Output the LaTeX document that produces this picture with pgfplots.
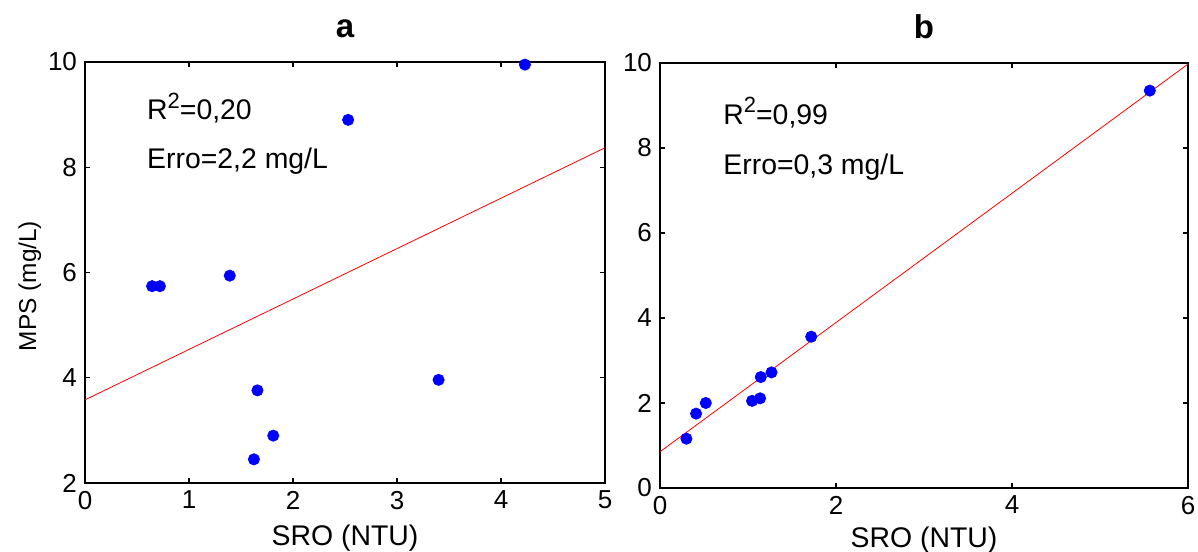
\documentclass[border=0pt]{standalone}
\usepackage{fontspec}
\setmainfont{Liberation Sans}
\usepackage{pgfplots}
\pgfplotsset{compat=1.18}
\begin{document}
\begin{tikzpicture}
\path[use as bounding box] (0,0) rectangle (599pt,275.5pt);
\pgfplotsset{myax/.style={
  scale only axis,
  axis line style={line width=0.8pt},
  tick style={black, line width=0.6pt},
  major tick length=2.5pt,
  tick align=inside,
  /pgf/number format/assume math mode=true,
  ticklabel style={font=\fontsize{13}{15}\selectfont},
  xticklabel style={yshift=-0.5pt},
  yticklabel style={xshift=-0.5pt},
  title style={font=\bfseries\fontsize{16.5}{19}\selectfont, at={(axis description cs:0.5,1)}, anchor=base, yshift=6pt},
  xlabel style={font=\fontsize{14.2}{16}\selectfont, at={(axis description cs:0.5,0)}, anchor=base},
}}
% panel a
\begin{axis}[myax,
  at={(42.5pt,34pt)}, anchor=south west,
  width=260pt, height=210.5pt,
  xmin=0, xmax=5, ymin=2, ymax=10,
  xtick={0,1,2,3,4,5}, ytick={2,4,6,8,10},
  title={a},
  xlabel={SRO (NTU)}, xlabel style={yshift=-31pt},
]
\addplot[red, line width=0.4pt] coordinates {(0,3.58) (5,8.37)};
\addplot[only marks, mark=*, mark size=2.8pt, blue, mark options={fill=blue, draw=blue}] coordinates {
(0.645,5.74) (0.72,5.74) (1.392,5.94) (2.53,8.90) (4.23,9.95)
(1.658,3.76) (1.81,2.90) (1.624,2.45) (3.40,3.96)
};
\node[anchor=base west, font=\fontsize{14.2}{16}\selectfont, inner sep=0pt] at (axis cs:0.594,8.90) {R\raisebox{0.75ex}{\fontsize{11}{11}\selectfont 2}=0,20};
\node[anchor=base west, font=\fontsize{14.2}{16}\selectfont, inner sep=0pt] at (axis cs:0.594,7.97) {Erro=2,2 mg/L};
\end{axis}
\node[rotate=90, anchor=base, font=\fontsize{12.2}{14}\selectfont] at (18pt,132.5pt) {MPS (mg/L)};
% panel b
\begin{axis}[myax,
  at={(330pt,31.5pt)}, anchor=south west,
  width=264pt, height=212.5pt,
  xmin=0, xmax=6, ymin=0, ymax=10,
  xtick={0,2,4,6}, ytick={0,2,4,6,8,10},
  title={b},
  xlabel={SRO (NTU)}, xlabel style={yshift=-29.5pt},
]
\addplot[red, line width=0.4pt] coordinates {(0,0.853) (6,9.975)};
\addplot[only marks, mark=*, mark size=2.8pt, blue, mark options={fill=blue, draw=blue}] coordinates {
(0.30,1.16) (0.41,1.75) (0.52,2.00) (1.046,2.05) (1.137,2.11)
(1.145,2.61) (1.267,2.72) (1.718,3.56) (5.566,9.35)
};
\node[anchor=base west, font=\fontsize{14.2}{16}\selectfont, inner sep=0pt] at (axis cs:0.716,8.56) {R\raisebox{0.75ex}{\fontsize{11}{11}\selectfont 2}=0,99};
\node[anchor=base west, font=\fontsize{14.2}{16}\selectfont, inner sep=0pt] at (axis cs:0.716,7.38) {Erro=0,3 mg/L};
\end{axis}
\end{tikzpicture}
\end{document}
